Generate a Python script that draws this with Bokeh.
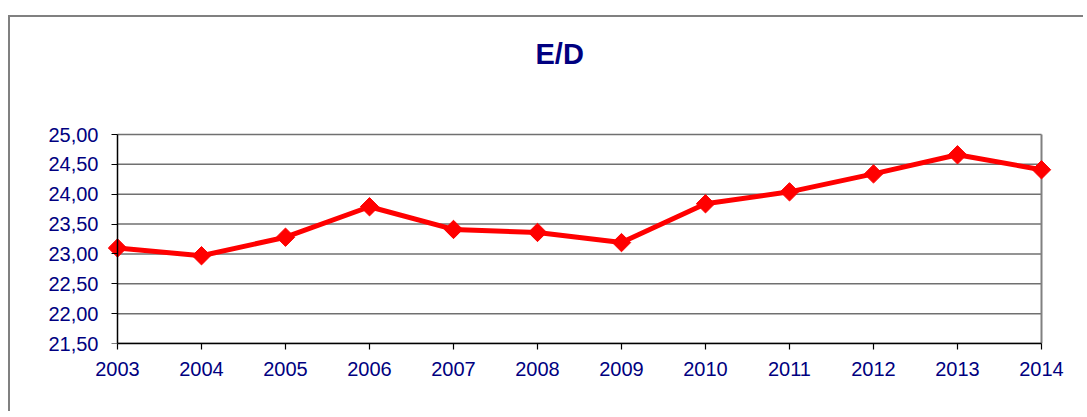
import math
from bokeh.plotting import figure
from bokeh.models import Range1d, FixedTicker, LinearAxis, Title
from bokeh.embed import file_html
from bokeh.resources import INLINE

years = [2003, 2004, 2005, 2006, 2007, 2008, 2009, 2010, 2011, 2012, 2013, 2014]
values = [23.10, 22.97, 23.28, 23.79, 23.41, 23.36, 23.19, 23.84, 24.04, 24.34, 24.66, 24.41]
y_ticks = [21.5, 22.0, 22.5, 23.0, 23.5, 24.0, 24.5, 25.0]
y_labels = ["21,50", "22,00", "22,50", "23,00", "23,50", "24,00", "24,50", "25,00"]
title_text = "E/D"

NAVY = "#000080"
FONT = "Liberation Sans"

# frame padding (px) so that edge markers are not clipped
PAD_X = 12
PAD_TOP = 3
PX_PER_YEAR = 84.0
PX_PER_UNIT = 59.6
x0, x1 = years[0], years[-1]
y0, y1 = y_ticks[0], y_ticks[-1]

p = figure(frame_width=int(round((x1 - x0) * PX_PER_YEAR + 2 * PAD_X)),
           frame_height=int(round((y1 - y0) * PX_PER_UNIT + PAD_TOP)),
           output_backend="svg", toolbar_location=None, y_axis_location=None,
           x_range=Range1d(x0 - PAD_X / PX_PER_YEAR, x1 + PAD_X / PX_PER_YEAR),
           y_range=Range1d(y0, y1 + PAD_TOP / PX_PER_UNIT),
           min_border_left=95, min_border_right=30, min_border_top=114, min_border_bottom=68)
p.margin = (15, 0, 0, 8)
p.styles = {"border-top": "2px solid #808080", "border-left": "2px solid #808080"}
p.background_fill_color = "white"
p.border_fill_color = "white"
p.outline_line_color = None

# spacer between the frame and the title
p.add_layout(Title(text=" ", text_font_size="10px", standoff=44), "above")

p.title.text = title_text
p.title.align = "left"
p.title.offset = 430
p.title.standoff = 10
p.title.text_font = FONT
p.title.text_font_size = "29px"
p.title.text_font_style = "bold"
p.title.text_color = NAVY

# gridlines + top/right border of the plot area
p.xgrid.grid_line_color = None
p.ygrid.grid_line_color = None
p.segment(x0=[x0] * len(y_ticks), x1=[x1] * len(y_ticks), y0=y_ticks, y1=y_ticks,
          line_color="#707070", line_width=1.5)
p.segment(x0=[x1], x1=[x1], y0=[y0], y1=[y1], line_color="#808080", line_width=2)

# x axis
p.xaxis.ticker = FixedTicker(ticks=years)
p.xaxis.major_label_overrides = {y: str(y) for y in years}
p.xaxis.bounds = (x0, x1)

# y axis labels (at the frame edge) ...
y_lab_axis = LinearAxis(ticker=FixedTicker(ticks=y_ticks), axis_line_color=None,
                        major_tick_line_color=None, minor_tick_line_color=None,
                        major_tick_out=0, major_tick_in=0, major_label_standoff=7)
y_lab_axis.major_label_overrides = dict(zip(y_ticks, y_labels))
p.add_layout(y_lab_axis, "left")
# ... and y axis line/ticks at the first year
y_line_axis = LinearAxis(ticker=FixedTicker(ticks=y_ticks), bounds=(y0, y1), fixed_location=x0)
y_line_axis.major_label_overrides = {t: "" for t in y_ticks}
p.add_layout(y_line_axis, "left")

for ax in (p.xaxis[0], y_lab_axis, y_line_axis):
    ax.major_label_text_font = FONT
    ax.major_label_text_font_size = "20px"
    ax.major_label_text_color = NAVY
for ax in (p.xaxis[0], y_line_axis):
    ax.axis_line_color = "black"
    ax.axis_line_width = 1.5
    ax.major_tick_line_color = "black"
    ax.major_tick_line_width = 1.2
    ax.major_tick_out = 6
    ax.major_tick_in = 0
    ax.minor_tick_line_color = None
p.xaxis.major_label_standoff = 12

p.line(years, values, line_color="#ff0000", line_width=5)
p.scatter(years, values, marker="square", angle=math.pi / 4, size=13,
          fill_color="#ff0000", line_color="#ff0000")

open("out.html", "w").write(file_html(p, INLINE))
